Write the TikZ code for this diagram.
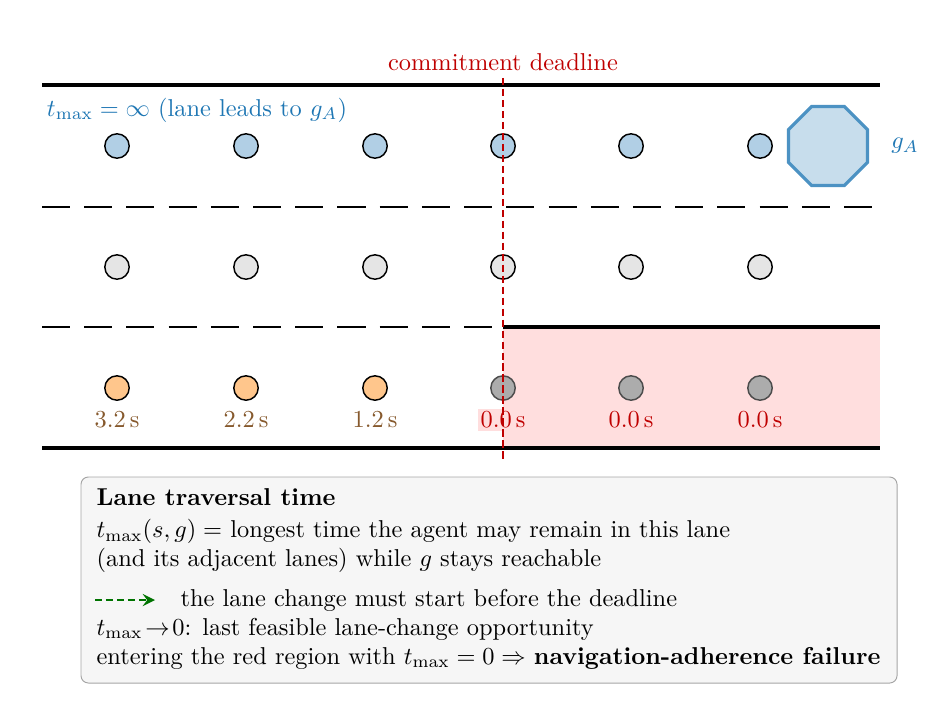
\documentclass[tikz,border=0pt]{standalone}
\usetikzlibrary{shapes.geometric}
\begin{document}
\begin{tikzpicture}[x=0.01441cm,y=-0.01441cm,
 road/.style={line width=1.6pt},
 lanedash/.style={line width=1.1pt,dash pattern=on 11.5pt off 5.8pt},
 veh/.style={circle,draw,line width=0.6pt,minimum size=10pt,inner sep=0},
 tl/.style={text=brown!70!black}, tr/.style={text=red!75!black}]
\definecolor{bl}{RGB}{31,119,180}
\useasboundingbox (0,0) rectangle (947,713);
\fill[red!13] (503,329) rectangle (880,447);
\coordinate (l1a) at (42,85); \coordinate (l1b) at (880,85);
\coordinate (l2a) at (42,207); \coordinate (l2b) at (880,207);
\coordinate (l3a) at (42,327); \coordinate (l3b) at (503,327); \coordinate (l3c) at (880,327);
\coordinate (l4a) at (42,448); \coordinate (l4b) at (880,448);
\draw[road] (l1a)--(l1b); \draw[road] (l4a)--(l4b); \draw[road] (l3b)--(l3c);
\draw[lanedash] (l2a)--(l2b); \draw[lanedash] (l3a)--(l3b);
\foreach \x [count=\i] in {117,246,375,503,631,760}{
 \node[veh,fill=bl!35] (a\i) at (\x,146) {};
 \node[veh,fill=gray!20] (b\i) at (\x,267) {};}
\foreach \x [count=\i] in {117,246,375}{\node[veh,fill=orange!45] (c\i) at (\x,388) {};}
\foreach \x [count=\i] in {503,631,760}{\node[veh,fill=gray!65,draw=gray!60!black] (d\i) at (\x,388) {};}
\node[tl] (t1) at (117,420) {3.2\,s};
\node[tl] (t2) at (246,420) {2.2\,s};
\node[tl] (t3) at (375,420) {1.2\,s};
\node[tr,fill=red!13,inner sep=1pt] (t4) at (503,420) {0.0\,s};
\node[tr] (t5) at (631,420) {0.0\,s};
\node[tr] (t6) at (760,420) {0.0\,s};
\node[regular polygon,regular polygon sides=8,draw=bl!80,fill=bl!25,line width=1.3pt,minimum size=35pt,inner sep=0] (g) at (828,146) {};
\node[text=bl] (gl) at (905,146) {$g_A$};
\node[text=bl] (tm) at (197,110) {$t_{\max}=\infty$ (lane leads to $g_A$)};
\coordinate (dt) at (503,78); \coordinate (db) at (503,460);
\draw[red!75!black,line width=1.2pt,dash pattern=on 3pt off 1.5pt] (dt)--(db);
\node[text=red!75!black] (cd) at (503,62) {commitment deadline};
\draw[rounded corners=3pt,draw=gray!70,fill=gray!7] (81,477) rectangle (897,683);
\node[anchor=west] (h) at (88,497) {\textbf{Lane traversal time}};
\node[anchor=west,align=left] (p1) at (88,546) {$t_{\max}(s,g)=$ longest time the agent may remain in this lane\\(and its adjacent lanes) while $g$ stays reachable};
\coordinate (ga) at (95,600); \coordinate (gb) at (155,600);
\draw[green!45!black,line width=1.2pt,dash pattern=on 3pt off 1.5pt,-stealth] (ga)--(gb);
\node[anchor=west] (p2) at (172,600) {the lane change must start before the deadline};
\node[anchor=west] (p3) at (88,629) {$t_{\max}\!\to\!0$: last feasible lane-change opportunity};
\node[anchor=west] (p4) at (88,658) {entering the red region with $t_{\max}=0\Rightarrow$ \textbf{navigation-adherence failure}};
\end{tikzpicture}
\end{document}
